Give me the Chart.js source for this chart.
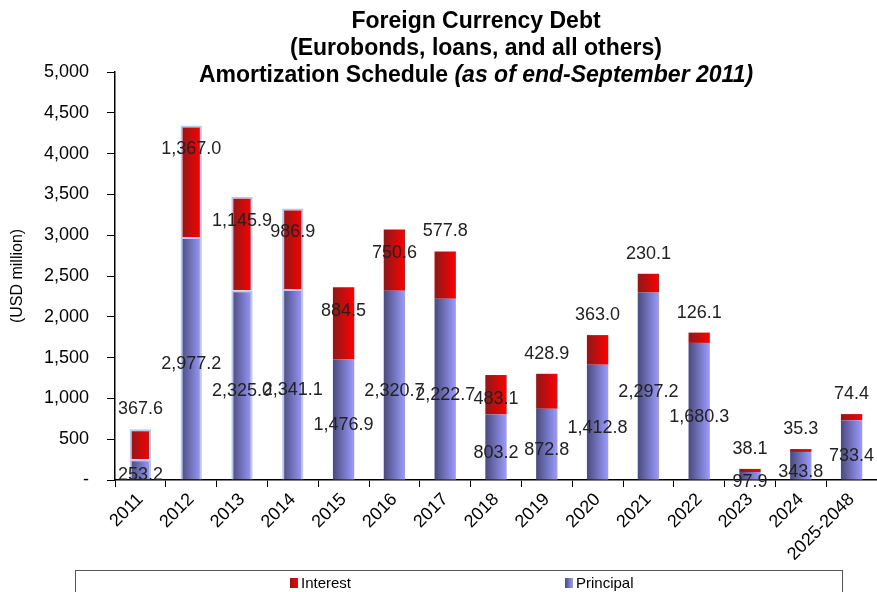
<!DOCTYPE html>
<html>
<head>
<meta charset="utf-8">
<script src="https://cdn.jsdelivr.net/npm/chart.js@4"></script>
<style>
  html, body { margin: 0; padding: 0; background: #fff; }
  #wrap { width: 877px; height: 592px; }
</style>
</head>
<body>
<div id="wrap"><canvas id="debtChart" width="877" height="592"></canvas></div>
<script>
// Amortization schedule, USD million
const years = ['2011', '2012', '2013', '2014', '2015', '2016', '2017', '2018',
  '2019', '2020', '2021', '2022', '2023', '2024', '2025-2048'];
const principal = [253.2, 2977.2, 2325.0, 2341.1, 1476.9, 2320.7, 2222.7, 803.2,
  872.8, 1412.8, 2297.2, 1680.3, 97.9, 343.8, 733.4];
const interest = [367.6, 1367.0, 1145.9, 986.9, 884.5, 750.6, 577.8, 483.1,
  428.9, 363.0, 230.1, 126.1, 38.1, 35.3, 74.4];
const yTicks = [0, 500, 1000, 1500, 2000, 2500, 3000, 3500, 4000, 4500, 5000];

const FONT = '"Liberation Sans", Arial, Helvetica, sans-serif';
const fmt = v => v.toLocaleString('en-US', { minimumFractionDigits: 1, maximumFractionDigits: 1 });

const gradColors = {
  Principal: ['#4a4a7c', '#9c9cff'],
  Interest: ['#8a1a1a', '#ff0000']
};

// horizontal gradient on every bar, like the old spreadsheet look
const barGradients = {
  id: 'barGradients',
  beforeDatasetsDraw(chart) {
    const c = chart.ctx;
    chart.data.datasets.forEach((ds, di) => {
      const cols = gradColors[ds.label];
      chart.getDatasetMeta(di).data.forEach(bar => {
        const g = c.createLinearGradient(bar.x - bar.width / 2, 0, bar.x + bar.width / 2, 0);
        g.addColorStop(0, cols[0]);
        g.addColorStop(1, cols[1]);
        bar.options.backgroundColor = g;
      });
    });
  }
};

const valueLabels = {
  id: 'valueLabels',
  afterDatasetsDraw(chart) {
    const c = chart.ctx;
    const pMeta = chart.getDatasetMeta(0);
    const iMeta = chart.getDatasetMeta(1);
    c.save();
    c.font = '18px ' + FONT;
    c.fillStyle = '#222';
    c.textAlign = 'center';
    c.textBaseline = 'middle';
    principal.forEach((v, i) => {
      const b = pMeta.data[i];
      c.fillText(fmt(v), b.x, (b.y + b.base) / 2 + 6);
    });
    interest.forEach((v, i) => {
      const b = iMeta.data[i];
      const inside = v > 700 || (b.base - b.y > 30 && v > 450 && v < 500);
      const y = inside ? b.y + 24 : b.y - 20;
      c.fillText(fmt(v), b.x, y);
    });
    c.restore();
  }
};

const titleAndLegend = {
  id: 'titleAndLegend',
  afterDraw(chart) {
    const c = chart.ctx;
    const cx = 476;
    c.save();
    c.fillStyle = '#000';
    c.textBaseline = 'alphabetic';
    c.textAlign = 'center';
    c.font = 'bold 23px ' + FONT;
    c.fillText('Foreign Currency Debt', cx, 28);
    c.fillText('(Eurobonds, loans, and all others)', cx, 55);
    // third line: bold + bold italic part
    const a = 'Amortization Schedule ';
    const b = '(as of end-September 2011)';
    c.font = 'bold 23px ' + FONT;
    const wa = c.measureText(a).width;
    c.font = 'italic bold 23px ' + FONT;
    const wb = c.measureText(b).width;
    const x0 = cx - (wa + wb) / 2;
    c.textAlign = 'left';
    c.font = 'bold 23px ' + FONT;
    c.fillText(a, x0, 82);
    c.font = 'italic bold 23px ' + FONT;
    c.fillText(b, x0 + wa, 82);

    // legend box
    c.strokeStyle = '#555';
    c.lineWidth = 1;
    c.strokeRect(75.5, 570.5, 767, 40);
    c.font = '15px ' + FONT;
    c.textBaseline = 'middle';
    const items = [['Interest', 290], ['Principal', 565]];
    items.forEach(([name, x]) => {
      const cols = gradColors[name];
      const g = c.createLinearGradient(x, 0, x + 8, 0);
      g.addColorStop(0, cols[0]);
      g.addColorStop(1, cols[1]);
      c.fillStyle = g;
      c.fillRect(x, 578, 8, 10);
      c.fillStyle = '#000';
      c.fillText(name, x + 11, 584);
    });
    c.restore();
  }
};

new Chart(document.getElementById('debtChart'), {
  type: 'bar',
  data: {
    labels: years,
    datasets: [{
      label: 'Principal',
      data: principal,
      backgroundColor: '#9c9cff',
      borderColor: '#b8c8f0',
      borderWidth: ctx => ctx.dataIndex < 4 ? 2 : 0,
      barPercentage: 0.42,
      categoryPercentage: 1
    }, {
      label: 'Interest',
      data: interest,
      backgroundColor: '#ff0000',
      borderColor: '#b8c8f0',
      borderWidth: ctx => ctx.dataIndex < 4 ? 2 : 0,
      barPercentage: 0.42,
      categoryPercentage: 1
    }]
  },
  options: {
    responsive: false,
    animation: false,
    layout: { padding: { top: 72, left: 0, right: 0, bottom: 32 } },
    plugins: {
      legend: { display: false },
      title: { display: false },
      tooltip: { enabled: false }
    },
    scales: {
      x: {
        stacked: true,
        grid: { drawOnChartArea: false, drawTicks: true, tickLength: 7, color: '#000' },
        border: { display: true, color: '#000', width: 1.5 },
        ticks: {
          color: '#000',
          font: { family: FONT, size: 18 },
          maxRotation: 45,
          minRotation: 45,
          autoSkip: false,
          padding: 2
        },
        afterFit: s => { s.height = 80; s.paddingLeft = 0; s.paddingRight = 0; }
      },
      y: {
        stacked: true,
        min: 0,
        max: 5000,
        afterBuildTicks: s => { s.ticks = yTicks.map(v => ({ value: v })); },
        grid: { drawOnChartArea: false, drawTicks: true, tickLength: 8, color: '#000' },
        border: { display: true, color: '#000', width: 1.5 },
        ticks: {
          color: '#000',
          font: { family: FONT, size: 18 },
          padding: 18,
          callback: v => v === 0 ? '-' : v.toLocaleString('en-US')
        },
        title: {
          display: true,
          text: '(USD million)',
          color: '#000',
          font: { family: FONT, size: 16 },
          padding: { top: 8, bottom: 0 }
        },
        afterFit: s => { s.width = 115; }
      }
    }
  },
  plugins: [barGradients, valueLabels, titleAndLegend]
});
</script>
</body>
</html>
